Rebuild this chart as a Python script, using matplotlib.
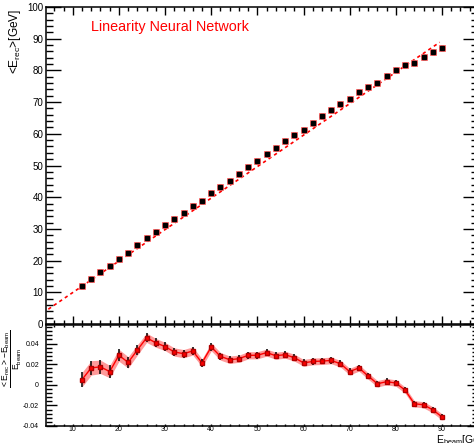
import numpy as np
import matplotlib
matplotlib.use("Agg")
import matplotlib.pyplot as plt
from matplotlib.ticker import MultipleLocator

plt.rcParams["font.family"] = ["Liberation Sans", "DejaVu Sans"]
plt.rcParams["mathtext.fontset"] = "custom"
plt.rcParams["mathtext.rm"] = "Liberation Sans"
plt.rcParams["mathtext.it"] = "Liberation Sans"

e_beam = [12, 14, 16, 18, 20, 22, 24, 26, 28, 30, 32, 34, 36, 38, 40, 42, 44, 46,
          48, 50, 52, 54, 56, 58, 60, 62, 64, 66, 68, 70, 72, 74, 76, 78, 80, 82,
          84, 86, 88, 90]
resid = [0.005, 0.0164, 0.0174, 0.0128, 0.0286, 0.0217, 0.0338, 0.0456, 0.0407,
         0.0371, 0.0318, 0.0302, 0.0328, 0.0213, 0.0367, 0.0276, 0.0243, 0.0253,
         0.0286, 0.0286, 0.0312, 0.0282, 0.0292, 0.0263, 0.0213, 0.0226, 0.0230,
         0.0236, 0.0204, 0.0128, 0.0164, 0.0085, 0.0010, 0.0030, 0.0017, -0.0052,
         -0.0184, -0.0194, -0.0243, -0.0312]
resid_err = [0.007, 0.007, 0.0065, 0.006, 0.0058, 0.0055, 0.005, 0.0045, 0.0043,
             0.004, 0.004, 0.004, 0.004, 0.0038, 0.0038, 0.0037, 0.0036, 0.0035,
             0.0035, 0.0035, 0.0034, 0.0034, 0.0034, 0.0033, 0.0033, 0.0033, 0.0033,
             0.0032, 0.0032, 0.0032, 0.0032, 0.0031, 0.0031, 0.0031, 0.0031, 0.003,
             0.003, 0.003, 0.003, 0.003]

# linear fit drawn in the upper pad
fit_slope = 0.993
fit_offset = 0.0
fit_range = (4.7, 89.5)

e_arr = np.array(e_beam, dtype=float)
r_arr = np.array(resid)
err_arr = np.array(resid_err)
e_rec = e_arr * (1 + r_arr)

W, H = 474, 443
fig = plt.figure(figsize=(W / 100, H / 100), dpi=100)


def box(l, t, r, b):
    return [l / W, 1 - b / H, (r - l) / W, (b - t) / H]


top = fig.add_axes(box(46, 7, 478, 324))
bot = fig.add_axes(box(46, 325, 478, 426))
bot.set_zorder(3)
bot.set_facecolor("white")

xlim = (4.2, 97.8)

# ---- upper pad
fx = np.array(fit_range)
top.plot(fx, fit_slope * fx + fit_offset, color="red", lw=1.2,
         linestyle=(0, (2, 2)), zorder=2)
top.plot(e_arr, e_rec, "s", ms=4.4, mfc="#ffa0a0", mec="#ff6060", mew=0.6,
         zorder=3)
top.plot(e_arr, e_rec, "s", ms=2.2, mfc="black", mec="black", zorder=4)
top.set_xlim(*xlim)
top.set_ylim(0, 100)
top.xaxis.set_major_locator(MultipleLocator(10))
top.xaxis.set_minor_locator(MultipleLocator(2))
top.yaxis.set_major_locator(MultipleLocator(10))
top.yaxis.set_minor_locator(MultipleLocator(2))
top.tick_params(axis="both", which="both", direction="in", top=True, right=True,
                labelsize=7, width=1, color="black")
top.tick_params(axis="x", which="major", length=6, labelbottom=False)
top.tick_params(axis="x", which="minor", length=3)
top.tick_params(axis="y", which="major", length=11, pad=2)
top.tick_params(axis="y", which="minor", length=5)
for s in top.spines.values():
    s.set_linewidth(1.1)
fig.text(91 / W, 1 - 27 / H, "Linearity Neural Network", color="red",
         fontsize=10.4, va="center", ha="left")
fig.text(15 / W, 1 - 9 / H, r"<E$_{\mathrm{rec}}$>[GeV]", rotation=90,
         fontsize=8.6, ha="center", va="top")

# ---- lower pad
bot.fill_between(e_arr, r_arr - err_arr, r_arr + err_arr, color="#ff7070",
                 alpha=0.7, lw=0, zorder=1)
bot.plot(e_arr, r_arr, color="red", lw=1, zorder=2)
bot.errorbar(e_arr, r_arr, yerr=err_arr, fmt="s", ms=3, mfc="red", mec="#b00000",
             ecolor="black", elinewidth=1.1, capsize=0, zorder=3)
bot.set_xlim(*xlim)
bot.set_ylim(-0.04, 0.058)
bot.xaxis.set_major_locator(MultipleLocator(10))
bot.xaxis.set_minor_locator(MultipleLocator(2))
bot.yaxis.set_major_locator(MultipleLocator(0.02))
bot.yaxis.set_minor_locator(MultipleLocator(0.004))
bot.yaxis.set_major_formatter(plt.FuncFormatter(
    lambda v, p: "0" if abs(v) < 1e-9 else f"{v:.2f}"))
bot.tick_params(axis="both", which="both", direction="in", top=True, right=True,
                labelsize=5, width=1)
bot.tick_params(axis="x", which="both", length=1.5, pad=0.3)
bot.tick_params(axis="y", which="major", length=8, pad=5)
bot.tick_params(axis="y", which="minor", length=4)
for s in bot.spines.values():
    s.set_linewidth(1.1)

fig.text(12.5 / W, 1 - 330 / H,
         r"$\frac{<E_{\mathrm{rec}}>-E_{\mathrm{beam}}}{E_{\mathrm{beam}}}$",
         rotation=90, fontsize=8.8, ha="center", va="top")
fig.text(436 / W, 1 - 440 / H, r"E$_{\mathrm{beam}}$[GeV]", fontsize=7.5,
         ha="left", va="center")

fig.savefig("out.png", dpi=100)
